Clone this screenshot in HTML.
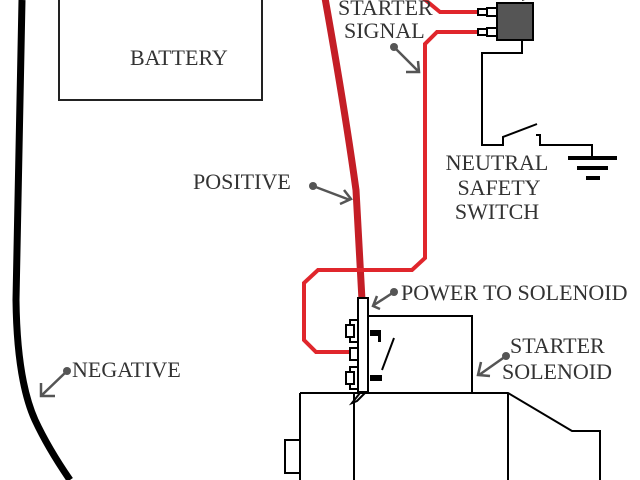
<!DOCTYPE html>
<html><head><style>
html,body{margin:0;padding:0;background:#fff;width:640px;height:480px;overflow:hidden}
text{font-family:"Liberation Serif",serif;fill:#333}
</style></head><body>
<svg width="640" height="480" viewBox="0 0 640 480">
<path d="M22,0 L16,300 Q17,380 35,420 Q48,448 70,480" fill="none" stroke="#000" stroke-width="7"/>
<rect x="59" y="-5" width="203" height="105" fill="none" stroke="#222" stroke-width="2"/>
<text x="130" y="65" font-size="22">BATTERY</text>
<path d="M325,-2 Q345,110 356,190 L362,300" fill="none" stroke="#c41e26" stroke-width="7"/>
<path d="M423,-2 L440,12 L478,12" fill="none" stroke="#e0262c" stroke-width="4"/>
<path d="M478,32 L437,32 L425,44 L425,258 L412,270 L318,270 L304,283 L304,340 L316,352 L350,352" fill="none" stroke="#e0262c" stroke-width="4"/>
<rect x="497" y="3" width="36" height="37" fill="#555" stroke="#000" stroke-width="2"/>
<rect x="487" y="8" width="10" height="8" fill="#fff" stroke="#000" stroke-width="2"/>
<rect x="478" y="9" width="9" height="6" fill="#fff" stroke="#000" stroke-width="2"/>
<rect x="487" y="28" width="10" height="8" fill="#fff" stroke="#000" stroke-width="2"/>
<rect x="478" y="29" width="9" height="6" fill="#fff" stroke="#000" stroke-width="2"/>
<path d="M522,0 L530,-3" stroke="#000" stroke-width="2"/>
<path d="M522,40 L522,53 L482,53 L482,145 L503,145 L503,137 L537,124" fill="none" stroke="#000" stroke-width="2"/>
<path d="M536,135 L540,135 L540,145 L592,145 L592,157" fill="none" stroke="#000" stroke-width="2"/>
<rect x="568" y="156" width="49" height="4" fill="#000"/>
<rect x="577" y="166" width="31" height="4" fill="#000"/>
<rect x="586" y="176" width="14" height="4" fill="#000"/>
<text x="338" y="15" font-size="22">STARTER</text>
<text x="344" y="38" font-size="22">SIGNAL</text>
<text x="497" y="170" font-size="22" text-anchor="middle">NEUTRAL</text>
<text x="499" y="195" font-size="22" text-anchor="middle">SAFETY</text>
<text x="497" y="219" font-size="22" text-anchor="middle">SWITCH</text>
<text x="193" y="189" font-size="22">POSITIVE</text>
<text x="72" y="377" font-size="22">NEGATIVE</text>
<text x="401" y="300" font-size="22">POWER TO SOLENOID</text>
<text x="510" y="353" font-size="22">STARTER</text>
<text x="502" y="379" font-size="22">SOLENOID</text>
<g stroke="#555" stroke-width="2.5" fill="none">
<path d="M394,47 L418,71 M406,72 L419,72 L418,61"/>
<path d="M313,186 L350,200 M340,204 L351,199 L344,190"/>
<path d="M67,371 L42,395 M41,383 L41,396 L55,396"/>
<path d="M394,292 L374,305 M380,309 L373,306 L377,296"/>
<path d="M506,356 L479,375 M481,362 L478,375 L490,376"/>
</g>
<g fill="#555"><circle cx="394" cy="47" r="4"/><circle cx="313" cy="186" r="4"/><circle cx="67" cy="371" r="4"/><circle cx="394" cy="292" r="4"/><circle cx="506" cy="356" r="4"/></g>
<g fill="none" stroke="#000" stroke-width="2">
<rect x="368" y="316" width="104" height="77"/>
<path d="M300,393 L508,393 L572,431 L600,431 L600,480 M508,393 L508,480 M300,393 L300,480 M354,393 L354,480"/>
<rect x="285" y="440" width="15" height="33"/>
<rect x="358" y="298" width="10" height="94" fill="#fff"/>
<rect x="350" y="320" width="8" height="22" fill="#fff"/>
<rect x="346" y="325" width="8" height="12" fill="#fff"/>
<rect x="350" y="348" width="8" height="12" fill="#fff"/>
<rect x="350" y="367" width="8" height="22" fill="#fff"/>
<rect x="346" y="372" width="8" height="12" fill="#fff"/>
<path d="M382,370 L394,338"/>
<path d="M352,403 L360,393 L365,393 L357,401 Z" fill="#fff"/>
</g>
<rect x="370" y="330" width="11" height="6" fill="#000"/>
<rect x="378" y="330" width="3" height="12" fill="#000"/>
<rect x="370" y="375" width="12" height="6" fill="#000"/>
</svg>
</body></html>
